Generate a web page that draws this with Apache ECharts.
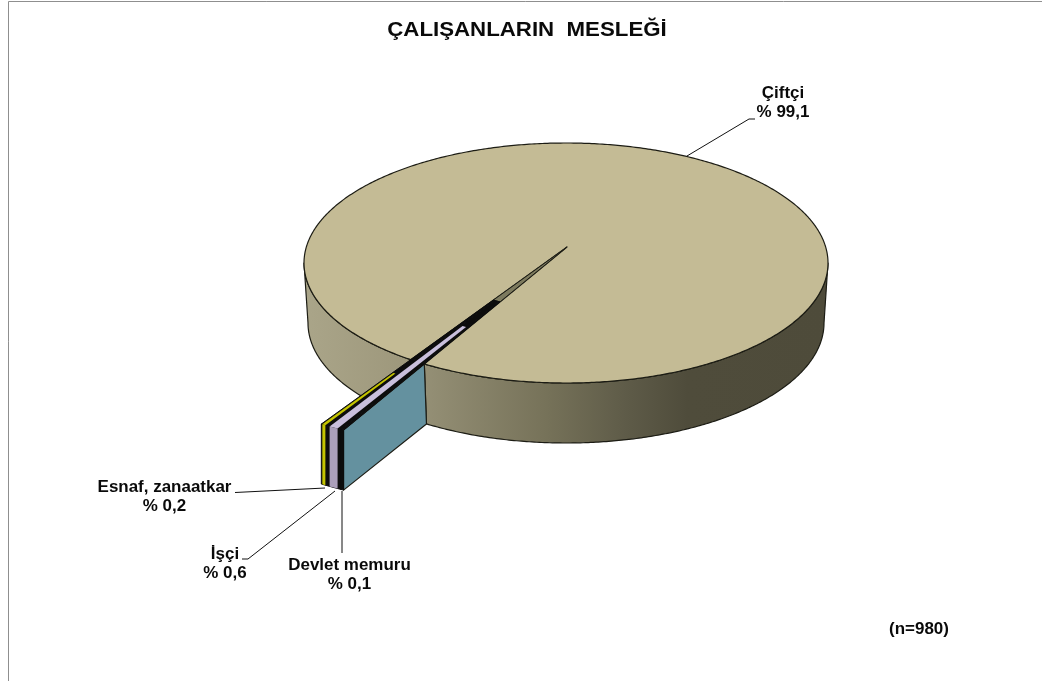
<!DOCTYPE html>
<html><head><meta charset="utf-8">
<style>html,body{margin:0;padding:0;background:#fff}#c{width:1042px;height:681px}</style>
<script src="https://cdn.jsdelivr.net/npm/echarts@6/dist/echarts.min.js"></script>
</head><body><div id="c"></div>
<script>
var titleText = 'ÇALIŞANLARIN  MESLEĞİ';
var noteText = '(n=980)';
var categories = ['Çiftçi', 'Devlet memuru', 'İşçi', 'Esnaf, zanaatkar'];
var shares = [99.1, 0.1, 0.6, 0.2];
var shareLabels = ['% 99,1', '% 0,1', '% 0,6', '% 0,2'];

// pie layout (projection of a tilted disc)
var PIE = {cx:566, cy:263, rx:262, ry:120, bottomRx:258, depth:60, ax:567, ay:247, outR:458, startDeg:122.44};
var colors = {top:'#c4bb95', cut:'#7d7a5e', edge:'#1c1c14', blue:'#64919f', pinkTop:'#c9bfdc', pinkFront:'#ab9fba', yellow:'#c4c400'};
var labelPos = [[783,103],[349.5,575],[225,564],[164.5,497]];
var leaders = [
  [[687,156],[749,119],[755,119]],
  [[342,491],[342,553]],
  [[335,491],[248,559],[242,559]],
  [[325,488],[235,492.5]]
];
var RAD = Math.PI/180, k = PIE.ry/PIE.rx;
function apexPt(deg, r){ return [PIE.ax + r*Math.cos(deg*RAD), PIE.ay + r*k*Math.sin(deg*RAD)]; }
function rimT(deg){ // parameter on the main disc's ellipse where a ray from the apex meets it
  var c=Math.cos(deg*RAD), s=Math.sin(deg*RAD), v0=(PIE.ay-PIE.cy)/PIE.ry, u0=(PIE.ax-PIE.cx)/PIE.rx;
  var b=u0*c+v0*s, q=-b+Math.sqrt(b*b-(u0*u0+v0*v0-1));
  return Math.atan2(v0+q*s, u0+q*c);
}
function ell(t,dy){ return [PIE.cx+(dy?PIE.bottomRx:PIE.rx)*Math.cos(t), PIE.cy+PIE.ry*Math.sin(t)+(dy||0)]; }
function arcPts(t1,t2,dy){ var p=[],n=Math.max(2,Math.ceil(Math.abs(t2-t1)/0.01)); for(var i=0;i<=n;i++) p.push(ell(t1+(t2-t1)*i/n,dy)); return p; }
function grad(x1,x2,stops){ return {type:'linear',global:true,x:x1,y:0,x2:x2,y2:0,colorStops:stops}; }
function poly(pts,fill,stroke,lw){ return {type:'polygon',silent:true,shape:{points:pts},style:{fill:fill,stroke:stroke||null,lineWidth:lw||0,lineJoin:'round'}}; }
function strip(a,b,f0,f1){ return [apexPt(a,PIE.outR*f0),apexPt(a,PIE.outR*f1),apexPt(b,PIE.outR*f1),apexPt(b,PIE.outR*f0)]; }
function front(a,b){ var p=apexPt(a,PIE.outR),q=apexPt(b,PIE.outR); return [p,q,[q[0],q[1]+PIE.depth],[p[0],p[1]+PIE.depth]]; }

var total = shares.reduce(function(s,v){return s+v;},0);
function renderItem(params, api){
  var i = params.dataIndex, before = 0, ch = [];
  for (var j=0;j<i;j++) before += shares[j];
  var a0 = PIE.startDeg + before/total*360, a1 = a0 + api.value(0)/total*360;
  if (i===0){
    var tR = rimT(a1), tL = rimT(a0);
    if (tR<0) tR+=2*Math.PI; if (tL<0) tL+=2*Math.PI;
    // side walls
    var rTop=arcPts(0,tR), rBot=arcPts(tR,0,PIE.depth);
    ch.push(poly(rTop.concat(rBot), grad(426,828,[{offset:0,color:'#948f75'},{offset:0.3,color:'#767259'},{offset:0.5,color:'#5e5b48'},{offset:0.65,color:'#4f4c3b'},{offset:1,color:'#4e4b3a'}]), colors.edge,1.2));
    var lTop=arcPts(tL,Math.PI), lBot=arcPts(Math.PI,tL,PIE.depth);
    ch.push(poly(lTop.concat(lBot), grad(304,426,[{offset:0,color:'#aaa589'},{offset:1,color:'#9b9579'}]), colors.edge,1.2));
    // top with the cut
    var t=arcPts(tL,tR+2*Math.PI);
    ch.push(poly([[PIE.ax,PIE.ay]].concat(t), colors.top, colors.edge,1.2));
    ch.push(poly([[PIE.ax,PIE.ay],apexPt(a1,PIE.outR*0.3),apexPt(a0,PIE.outR*0.3)], colors.cut, colors.edge,1));
  }
  if (i===1){
    // blue exposed wall of the pulled-out slice
    var tB = rimT(a0), e = ell(tB), eb = ell(tB,PIE.depth), o = apexPt(a0,PIE.outR);
    ch.push(poly([o,e,eb,[o[0],o[1]+PIE.depth]], colors.blue, colors.edge,1.2));
    ch.push(poly(strip(a0,a1,0.3,1),'#0c0c0c','#0c0c0c',1));
    ch.push(poly(front(a0,a1),'#0c0c0c','#0c0c0c',1));
  }
  if (i===2){
    ch.push(poly(strip(a0,a1,0.3,1),'#0c0c0c','#0c0c0c',1));
    ch.push(poly(front(a0,a1),'#0c0c0c','#0c0c0c',1));
    ch.push(poly(strip(a0+0.5,a1-0.5,0.44,1),colors.pinkTop));
    ch.push(poly(front(a0+0.5,a1-0.5),colors.pinkFront));
  }
  if (i===3){
    ch.push(poly(strip(a0,a1,0.3,1),'#0c0c0c','#0c0c0c',1));
    ch.push(poly(front(a0,a1),'#0c0c0c','#0c0c0c',1));
    ch.push(poly(strip(a0+0.12,a1-0.15,0.71,1),colors.yellow));
    ch.push(poly(front(a0+0.12,a1-0.15),colors.yellow));
  }
  ch.push({type:'polyline',silent:true,z2:20,shape:{points:leaders[i]},style:{fill:null,stroke:'#111',lineWidth:1}});
  ch.push({type:'text',silent:true,z2:30,x:labelPos[i][0],y:labelPos[i][1],scaleX:1.06,style:{text:categories[i]+'\n'+shareLabels[i],align:'center',verticalAlign:'middle',
    font:'bold 16px "Liberation Sans", Arial, sans-serif',lineHeight:19.5,fill:'#0a0a0a'}});
  return {type:'group',children:ch};
}

var chart = echarts.init(document.getElementById('c'),null,{renderer:'canvas'});
chart.setOption({
  animation:false,
  backgroundColor:'#fff',
  graphic:[
    {type:'polyline',silent:true,shape:{points:[[8.5,681],[8.5,1.5],[1042,1.5]]},style:{fill:null,stroke:'#8f8f8f',lineWidth:1}},
    {type:'text',silent:true,x:527,y:30,scaleX:1.06,style:{text:titleText,align:'center',verticalAlign:'middle',font:'bold 21px "Liberation Sans", Arial, sans-serif',fill:'#0a0a0a'}},
    {type:'text',silent:true,x:919,y:630,scaleX:1.06,style:{text:noteText,align:'center',verticalAlign:'middle',font:'bold 16px "Liberation Sans", Arial, sans-serif',fill:'#0a0a0a'}}
  ],
  series:[{type:'custom',coordinateSystem:'none',renderItem:renderItem,
    data:categories.map(function(n,i){return {name:n,value:shares[i]};})}]
});
</script></body></html>
